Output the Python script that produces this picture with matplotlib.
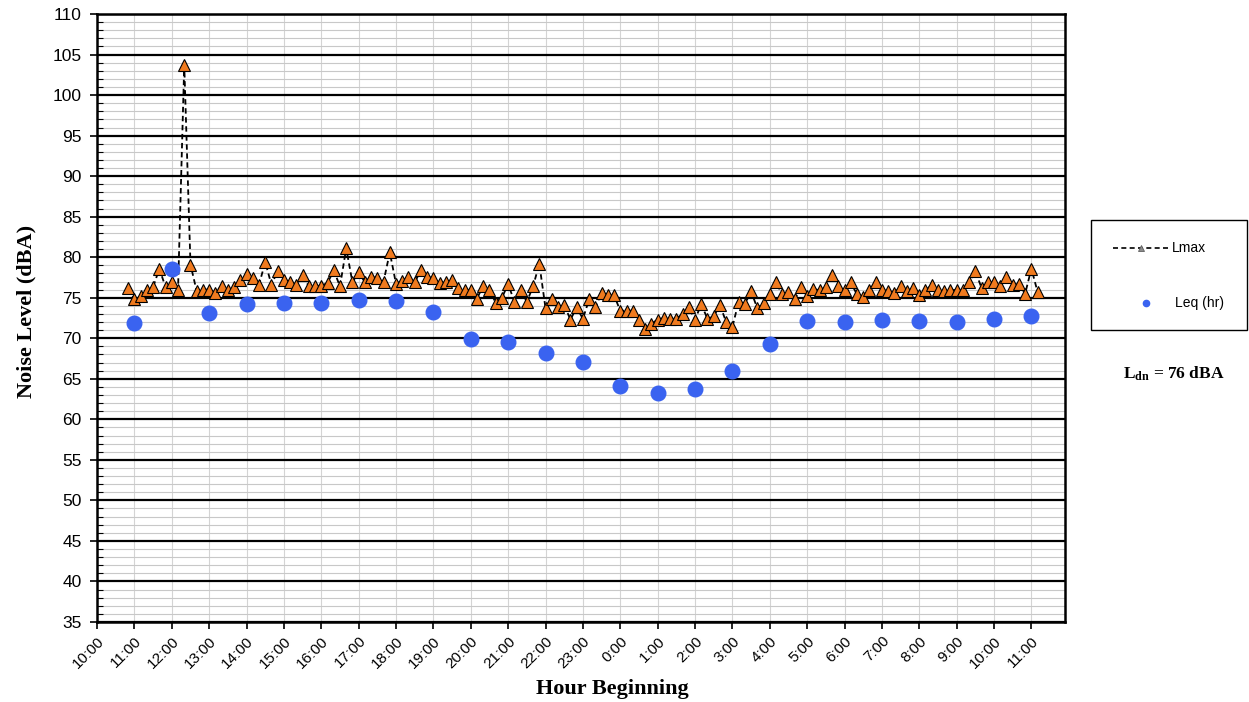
import matplotlib
matplotlib.use('Agg')
import numpy as np
import pandas as pd
import matplotlib.pyplot as plt
import matplotlib.dates as mdates
from matplotlib.ticker import MultipleLocator, FuncFormatter
from matplotlib.lines import Line2D
from matplotlib.patches import Rectangle

plt.rcParams['mathtext.fontset'] = 'custom'
plt.rcParams['mathtext.rm'] = 'Liberation Serif'
plt.rcParams['mathtext.bf'] = 'Liberation Serif:bold'

# 10-minute Lmax readings, first one at 10:50
lmax_start = '2019-06-04 10:50'
lmax_values = [
    76.2, 74.8, 75.2, 75.9, 76.3, 78.6, 76.3, 77.0, 76.0, 103.7,
    79.1, 75.8, 76.0, 76.0, 75.6, 76.5, 75.9, 76.3, 77.2, 77.9,
    77.4, 76.6, 79.4, 76.6, 78.3, 77.2, 77.0, 76.6, 77.8, 76.4,
    76.4, 76.5, 76.8, 78.4, 76.4, 81.1, 76.9, 78.2, 76.9, 77.6,
    77.4, 77.0, 80.6, 76.7, 77.1, 77.6, 76.9, 78.4, 77.6, 77.4,
    76.8, 76.9, 77.2, 76.2, 76.0, 75.9, 74.9, 76.5, 75.9, 74.4,
    75.0, 76.7, 74.5, 75.9, 74.5, 76.4, 79.2, 73.7, 74.9, 73.8,
    74.1, 72.3, 73.8, 72.4, 74.8, 73.8, 75.6, 75.3, 75.3, 73.4,
    73.4, 73.4, 72.3, 71.1, 71.8, 72.3, 72.5, 72.4, 72.4, 73.0,
    73.8, 72.3, 74.2, 72.4, 72.7, 74.1, 72.0, 71.4, 74.5, 74.2,
    75.8, 73.7, 74.3, 75.4, 76.9, 75.4, 75.7, 74.8, 76.3, 75.2,
    76.1, 75.9, 76.3, 77.8, 76.4, 75.9, 76.9, 75.4, 75.1, 76.0,
    76.9, 76.0, 75.8, 75.6, 76.4, 75.8, 76.2, 75.3, 75.9, 76.6,
    75.9, 75.8, 75.9, 76.0, 75.9, 76.9, 78.3, 76.2, 76.9, 76.9,
    76.4, 77.5, 76.6, 76.7, 75.5, 78.6, 75.7,
]

# hourly Leq, first hour beginning 11:00
leq_start = '2019-06-04 11:00'
leq_values = [
    71.9, 78.6, 73.1, 74.2, 74.3, 74.4, 74.7, 74.6, 73.3, 69.9,
    69.5, 68.2, 67.1, 64.1, 63.2, 63.7, 66.0, 69.3, 72.1, 72.0,
    72.3, 72.1, 72.0, 72.4, 72.8,
]

ldn_value = 76

lmax_times = pd.date_range(lmax_start, periods=len(lmax_values), freq='10min')
leq_times = pd.date_range(leq_start, periods=len(leq_values), freq='h')

fig = plt.figure(figsize=(12.49, 7.02), dpi=100)
ax = fig.add_axes([0.0777, 0.114, 0.775, 0.866])

ax.plot(lmax_times, lmax_values, ls='--', dashes=(3, 2), color='black', lw=1.3,
        marker='^', ms=8, mfc='#F07A1E', mec='black', mew=0.8, zorder=4)
ax.plot(leq_times, leq_values, ls='none', marker='o', ms=10.5,
        mfc='#3A63F0', mec='#3A63F0', zorder=5)

x0 = pd.Timestamp('2019-06-04 10:00')
ax.set_xlim(x0, x0 + pd.Timedelta(hours=25.9))
ax.set_ylim(35, 110)

ax.yaxis.set_major_locator(MultipleLocator(5))
ax.yaxis.set_minor_locator(MultipleLocator(1))
ax.xaxis.set_major_locator(mdates.HourLocator())


def hour_label(v, pos):
    d = mdates.num2date(v)
    return '{}:{:02d}'.format(d.hour, d.minute)


ax.xaxis.set_major_formatter(FuncFormatter(hour_label))

ax.set_axisbelow(True)
ax.grid(which='minor', axis='y', color='#c8c8c8', lw=0.8)
ax.grid(which='major', axis='y', color='black', lw=1.6)
ax.grid(which='major', axis='x', color='#d4d4d4', lw=0.8)

for s in ax.spines.values():
    s.set_linewidth(1.8)
    s.set_color('black')

ax.tick_params(axis='y', which='major', direction='out', length=5, width=1.2,
               labelsize=12.5, pad=6)
ax.tick_params(axis='y', which='minor', direction='in', length=4, width=0.8)
ax.tick_params(axis='x', which='major', direction='out', length=5, width=1.2,
               labelsize=11)
for lab in ax.get_yticklabels() + ax.get_xticklabels():
    lab.set_family('Liberation Sans')
plt.setp(ax.get_xticklabels(), rotation=45, ha='right', va='top',
         rotation_mode='anchor')

ax.set_ylabel('Noise Level (dBA)', family='Liberation Serif', weight='bold',
              fontsize=16)
ax.yaxis.set_label_coords(-0.063, 0.511)
ax.set_xlabel('Hour Beginning', family='Liberation Serif', weight='bold',
              fontsize=16)
ax.xaxis.set_label_coords(0.532, -0.093)

# legend box drawn on the figure
fig.patches.append(Rectangle((0.8735, 0.530), 0.125, 0.1566, transform=fig.transFigure,
                             fill=False, ec='black', lw=1.0))
fig.lines.append(Line2D([0.891, 0.935], [0.6467, 0.6467], transform=fig.transFigure,
                        ls='--', dashes=(3, 2), color='black', lw=1.2))
fig.lines.append(Line2D([0.9135], [0.6467], transform=fig.transFigure, ls='none',
                        marker='^', ms=5, mfc='#8c8c8c', mec='#606060', mew=0.6))
fig.text(0.938, 0.6467, 'Lmax', family='Liberation Sans', fontsize=10, va='center')
fig.lines.append(Line2D([0.9175], [0.5684], transform=fig.transFigure, ls='none',
                        marker='o', ms=4.5, mfc='#3A63F0', mec='#3A63F0'))
fig.text(0.941, 0.5684, 'Leq (hr)', family='Liberation Sans', fontsize=10, va='center')

fig.text(0.940, 0.468, r'$\mathbf{L_{dn}}$' + ' = {} dBA'.format(ldn_value),
         family='Liberation Serif', weight='bold', fontsize=12.5,
         ha='center', va='center')

fig.savefig('out.png', dpi=100)
